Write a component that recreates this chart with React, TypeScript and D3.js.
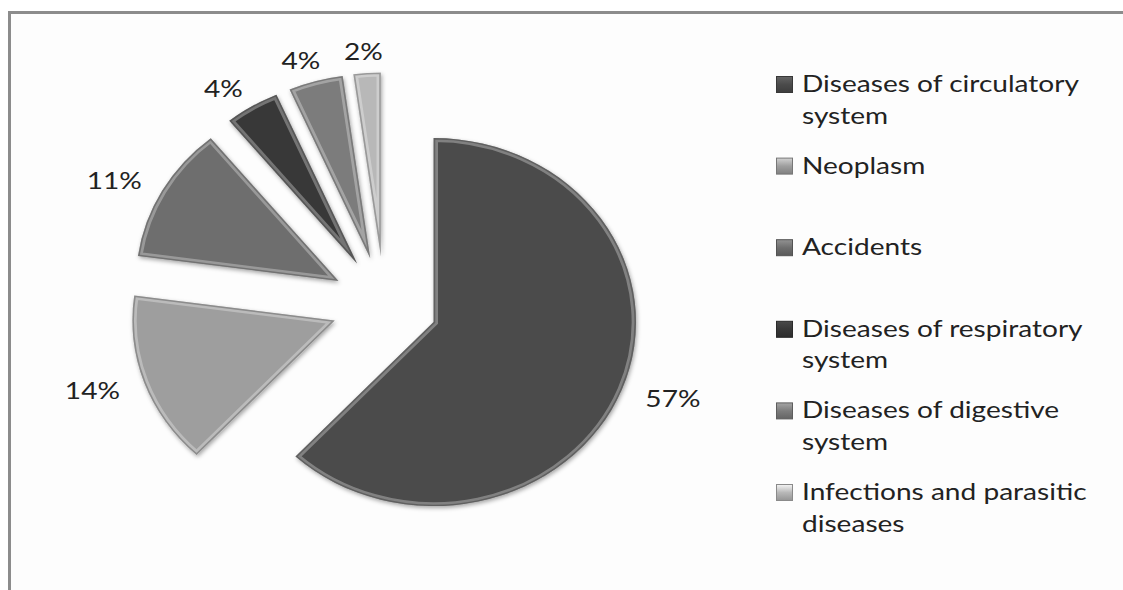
import React from "react";
import * as d3 from "d3";

const categories = [
  "Diseases of circulatory system",
  "Neoplasm",
  "Accidents",
  "Diseases of respiratory system",
  "Diseases of digestive system",
  "Infections and parasitic diseases",
];
const legendLines = [
  ["Diseases of circulatory", "system"],
  ["Neoplasm"],
  ["Accidents"],
  ["Diseases of respiratory", "system"],
  ["Diseases of digestive", "system"],
  ["Infections and parasitic", "diseases"],
];
const values = [57, 14, 11, 4, 4, 2];
const labels = ["57%", "14%", "11%", "4%", "4%", "2%"];
const colors = ["#4b4b4b", "#9e9e9e", "#6e6e6e", "#383838", "#7c7c7c", "#b8b8b8"];

const W = 1123;
const H = 590;
const CX = 384.5;
const CY = 304.5;
const R = 184;
const SX = 1.1; // horizontal stretch of the whole picture
const EXPLODE = 48;
const LABEL_RX = 310;
const LABEL_RY = 254;
const TEXT_SX = 1.17;
const FONT = "Lato, 'Open Sans', sans-serif";

export default function App() {
  const pie = d3
    .pie<number>()
    .sort(null)
    .value((d) => d)
    .startAngle(0)
    .endAngle(2 * Math.PI);
  const arcs = pie(values);
  const arc = d3.arc<d3.PieArcDatum<number>>().innerRadius(0).outerRadius(R);

  const legendY = d3.scaleLinear().domain([0, 5]).range([92, 500]);

  return (
    <svg
      width={W}
      height={H}
      style={{ position: "absolute", left: 0, top: 0, background: "#fff" }}
    >
      <defs>
        <filter id="shadow" x="-20%" y="-20%" width="140%" height="140%">
          <feDropShadow dx="1" dy="2" stdDeviation="2" floodColor="#000" floodOpacity="0.35" />
        </filter>
        {arcs.map((a, i) => (
          <clipPath id={`clip${i}`} key={i}>
            <path d={arc(a) || ""} />
          </clipPath>
        ))}
        {colors.map((c, i) => (
          <linearGradient id={`lg${i}`} key={i} x1="0" y1="0" x2="0" y2="1">
            <stop offset="0" stopColor={d3.color(c)!.brighter(0.8).formatHex()} />
            <stop offset="0.5" stopColor={c} />
            <stop offset="1" stopColor={d3.color(c)!.darker(0.6).formatHex()} />
          </linearGradient>
        ))}
      </defs>
      <rect x={9.5} y={12.5} width={1300} height={800} fill="#fdfdfd" stroke="#8c8c8c" strokeWidth={3} />

      <g transform={`translate(${CX},${CY}) scale(${SX},1)`}>
        {arcs.map((a, i) => {
          const mid = (a.startAngle + a.endAngle) / 2;
          const tx = EXPLODE * Math.sin(mid);
          const ty = -EXPLODE * Math.cos(mid);
          const d = arc(a) || "";
          return (
            <g key={i} transform={`translate(${tx},${ty})`}>
              <path d={d} fill={colors[i]} filter="url(#shadow)" />
              <g clipPath={`url(#clip${i})`}>
                <path d={d} fill="none" stroke="#ffffff" strokeOpacity={0.3} strokeWidth={8} />
                <path d={d} fill="none" stroke="#000" strokeOpacity={0.25} strokeWidth={3} />
              </g>
            </g>
          );
        })}
      </g>

      {arcs.map((a, i) => {
        const mid = (a.startAngle + a.endAngle) / 2;
        const lx = CX + LABEL_RX * Math.sin(mid);
        const ly = CY - LABEL_RY * Math.cos(mid);
        return (
          <g key={i} transform={`translate(${lx},${ly}) scale(${TEXT_SX},1)`}>
            <text
              x={0}
              y={0}
              textAnchor="middle"
              dominantBaseline="central"
              fontFamily={FONT}
              fontSize={24}
              fill="#222"
            >
              {labels[i]}
            </text>
          </g>
        );
      })}

      {categories.map((c, i) => {
        const by = legendY(i);
        return (
          <g key={c}>
            <rect
              x={776.5}
              y={by - 15.5}
              width={16}
              height={16}
              fill={`url(#lg${i})`}
              stroke={d3.color(colors[i])!.darker(0.8).formatHex()}
              strokeWidth={1}
            />
            {legendLines[i].map((ln, j) => (
              <g key={j} transform={`translate(802,${by + j * 31.5}) scale(${TEXT_SX},1)`}>
                <text x={0} y={0} fontFamily={FONT} fontSize={24} fill="#222">
                  {ln}
                </text>
              </g>
            ))}
          </g>
        );
      })}
    </svg>
  );
}
